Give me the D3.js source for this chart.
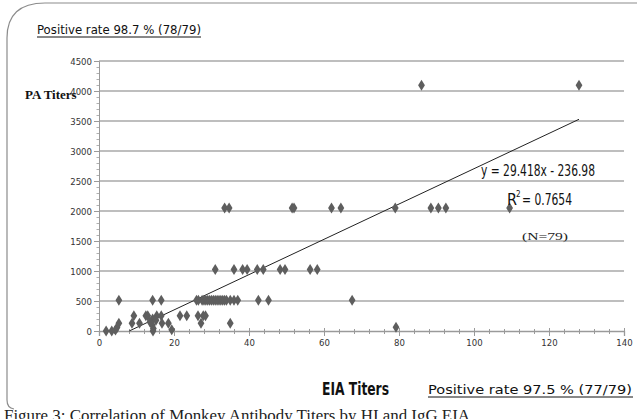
<!DOCTYPE html>
<html><head><meta charset="utf-8">
<script src="https://cdn.jsdelivr.net/npm/d3@7"></script>
<style>body{margin:0;background:#fff;}svg{display:block;}</style>
</head><body>
<svg id="c" width="637" height="419"></svg>
<script>
// EIA titers (x) and PA titers (y)
const eiaTiters = [
  86, 128,
  33.5, 34.7, 51.5, 52, 62, 64.5, 79, 88.5, 90.5, 92.5, 109.5,
  31, 36, 38.3, 39.5, 42.2, 43.8, 48.3, 49.6, 56.3, 58.2,
  5.3, 14.3, 16.6, 26, 26.5, 27.5, 28, 28.5, 29, 29.5, 30, 30.5, 31, 31.5, 32, 32.5, 33, 33.5, 34, 35, 36, 37, 42.5, 45.2, 67.5,
  9.3, 12.5, 13, 15.4, 16.6, 21.6, 23.4, 26.4, 27.8, 28.4, 14.3,
  5.3, 8.8, 10.8, 13.6, 14.2, 16.8, 18.5, 27.2, 35, 15.2,
  19.4, 14.5, 79.2, 4.8,
  1.9, 3.4, 4.4, 14.4
];
const paTiters = [
  4096, 4096,
  2048, 2048, 2048, 2048, 2048, 2048, 2048, 2048, 2048, 2048, 2048,
  1024, 1024, 1024, 1024, 1024, 1024, 1024, 1024, 1024, 1024,
  512, 512, 512, 512, 512, 512, 512, 512, 512, 512, 512, 512, 512, 512, 512, 512, 512, 512, 512, 512, 512, 512, 512, 512, 512,
  256, 256, 256, 256, 256, 256, 256, 256, 256, 256, 200,
  128, 128, 128, 150, 100, 128, 128, 128, 128, 180,
  20, 40, 64, 60,
  0, 0, 16, 0
];
const xTicks = [0, 20, 40, 60, 80, 100, 120, 140];
const yTicks = [0, 500, 1000, 1500, 2000, 2500, 3000, 3500, 4000, 4500];
const slope = 29.418, intercept = -236.98;
const data = eiaTiters.map((x, i) => ({x, y: paTiters[i]}));

const svg = d3.select('#c');
const x = d3.scaleLinear().domain([0, 140]).range([99, 624]);
const y = d3.scaleLinear().domain([0, 4500]).range([331, 61]);
const axisFont = '"DejaVu Sans Condensed","Liberation Sans Narrow",sans-serif';
const serif = '"Liberation Serif","DejaVu Serif",serif';

// frame
svg.append('path')
  .attr('d', 'M7,400 L7,38 Q7,3 45,3 L640,3')
  .attr('fill', 'none').attr('stroke', '#8c8c8c').attr('stroke-width', 1.2);
svg.append('path')
  .attr('d', 'M7,400 Q7,408 14,409')
  .attr('fill', 'none').attr('stroke', '#8c8c8c').attr('stroke-width', 1.2);

// gridlines
svg.append('g').selectAll('line').data(yTicks.filter(d => d > 0)).join('line')
  .attr('x1', x(0)).attr('x2', x(140))
  .attr('y1', d => y(d)).attr('y2', d => y(d))
  .attr('stroke', '#a9a9a9').attr('stroke-width', 1.5);

// y axis
const yAxis = d3.axisLeft(y).tickValues(yTicks).tickSize(5).tickFormat(d3.format('d'));
const gy = svg.append('g').attr('transform', `translate(${x(0)},0)`).call(yAxis);
gy.select('.domain').attr('stroke', '#9a9a9a');
gy.selectAll('.tick line').attr('stroke', '#9a9a9a');
gy.selectAll('.tick text').attr('font-family', axisFont).attr('font-size', 9.5).attr('fill', '#333').attr('x', -7);
const gyMinor = svg.append('g').attr('transform', `translate(${x(0)},0)`)
  .call(d3.axisLeft(y).tickValues(d3.range(100, 4500, 100).filter(v => v % 500)).tickSize(2.5).tickFormat(''));
gyMinor.select('.domain').remove();
gyMinor.selectAll('.tick line').attr('stroke', '#b0b0b0');

// x axis
const xAxis = d3.axisBottom(x).tickValues(xTicks).tickSize(5).tickFormat(d3.format('d'));
const gx = svg.append('g').attr('transform', `translate(0,${y(0)})`).call(xAxis);
gx.select('.domain').attr('stroke', '#9a9a9a').attr('stroke-width', 1.3);
gx.selectAll('.tick line').attr('stroke', '#9a9a9a').attr('y1', -3);
gx.selectAll('.tick text').attr('font-family', axisFont).attr('font-size', 9.5).attr('fill', '#333').attr('y', 8);
const gxMinor = svg.append('g').attr('transform', `translate(0,${y(0)})`)
  .call(d3.axisBottom(x).tickValues(d3.range(4, 140, 4).filter(v => v % 20)).tickSize(3).tickFormat(''));
gxMinor.select('.domain').remove();
gxMinor.selectAll('.tick line').attr('stroke', '#9a9a9a').attr('y1', -2);

// trend line
const x0 = -intercept / slope, x1 = 128;
svg.append('line')
  .attr('x1', x(x0)).attr('y1', y(slope * x0 + intercept))
  .attr('x2', x(x1)).attr('y2', y(slope * x1 + intercept))
  .attr('stroke', '#222').attr('stroke-width', 1);

// points
svg.append('g').selectAll('path').data(data).join('path')
  .attr('transform', d => `translate(${x(d.x)},${y(d.y)})`)
  .attr('d', 'M0,-5.5 L3.4,0 L0,5.5 L-3.4,0 Z')
  .attr('fill', '#5e5e5e');

// texts
svg.append('text').attr('x', 37).attr('y', 34)
  .attr('font-family', axisFont).attr('font-size', 13).attr('fill', '#111')
  .attr('textLength', 164).attr('lengthAdjust', 'spacingAndGlyphs')
  .text('Positive rate 98.7 % (78/79)');
svg.append('line').attr('x1', 37).attr('x2', 201).attr('y1', 37).attr('y2', 37).attr('stroke', '#111').attr('stroke-width', 1);

svg.append('text').attr('x', 25).attr('y', 99)
  .attr('font-family', serif).attr('font-weight', 'bold').attr('font-size', 13).attr('fill', '#111')
  .text('PA Titers');

svg.append('text').attr('x', 322).attr('y', 395)
  .attr('font-family', axisFont).attr('font-weight', 'bold').attr('font-size', 18).attr('fill', '#111')
  .attr('textLength', 67).attr('lengthAdjust', 'spacingAndGlyphs')
  .text('EIA  Titers');

svg.append('text').attr('x', 428).attr('y', 394)
  .attr('font-family', axisFont).attr('font-size', 13).attr('fill', '#111')
  .attr('textLength', 204).attr('lengthAdjust', 'spacingAndGlyphs')
  .text('Positive rate 97.5 % (77/79)');
svg.append('line').attr('x1', 428).attr('x2', 633).attr('y1', 397).attr('y2', 397).attr('stroke', '#111').attr('stroke-width', 1);

svg.append('text').attr('x', 481).attr('y', 176)
  .attr('font-family', axisFont).attr('font-size', 16).attr('fill', '#111')
  .attr('textLength', 114).attr('lengthAdjust', 'spacingAndGlyphs')
  .text('y = 29.418x - 236.98');
svg.append('text').attr('x', 507).attr('y', 205)
  .attr('font-family', axisFont).attr('font-size', 16).attr('fill', '#111').text('R');
svg.append('text').attr('x', 516).attr('y', 197)
  .attr('font-family', axisFont).attr('font-size', 8).attr('fill', '#111').text('2');
svg.append('text').attr('x', 522).attr('y', 205)
  .attr('font-family', axisFont).attr('font-size', 16).attr('fill', '#111')
  .attr('textLength', 50).attr('lengthAdjust', 'spacingAndGlyphs').text('= 0.7654');

svg.append('text').attr('x', 522).attr('y', 240)
  .attr('font-family', serif).attr('font-size', 11).attr('fill', '#222')
  .attr('textLength', 46).attr('lengthAdjust', 'spacingAndGlyphs')
  .text('(N=79)');

svg.append('text').attr('x', 4).attr('y', 421)
  .attr('font-family', serif).attr('font-size', 16).attr('fill', '#222')
  .attr('textLength', 466).attr('lengthAdjust', 'spacingAndGlyphs')
  .text('Figure 3: Correlation of Monkey Antibody Titers by HI and IgG EIA');
</script>
</body></html>
